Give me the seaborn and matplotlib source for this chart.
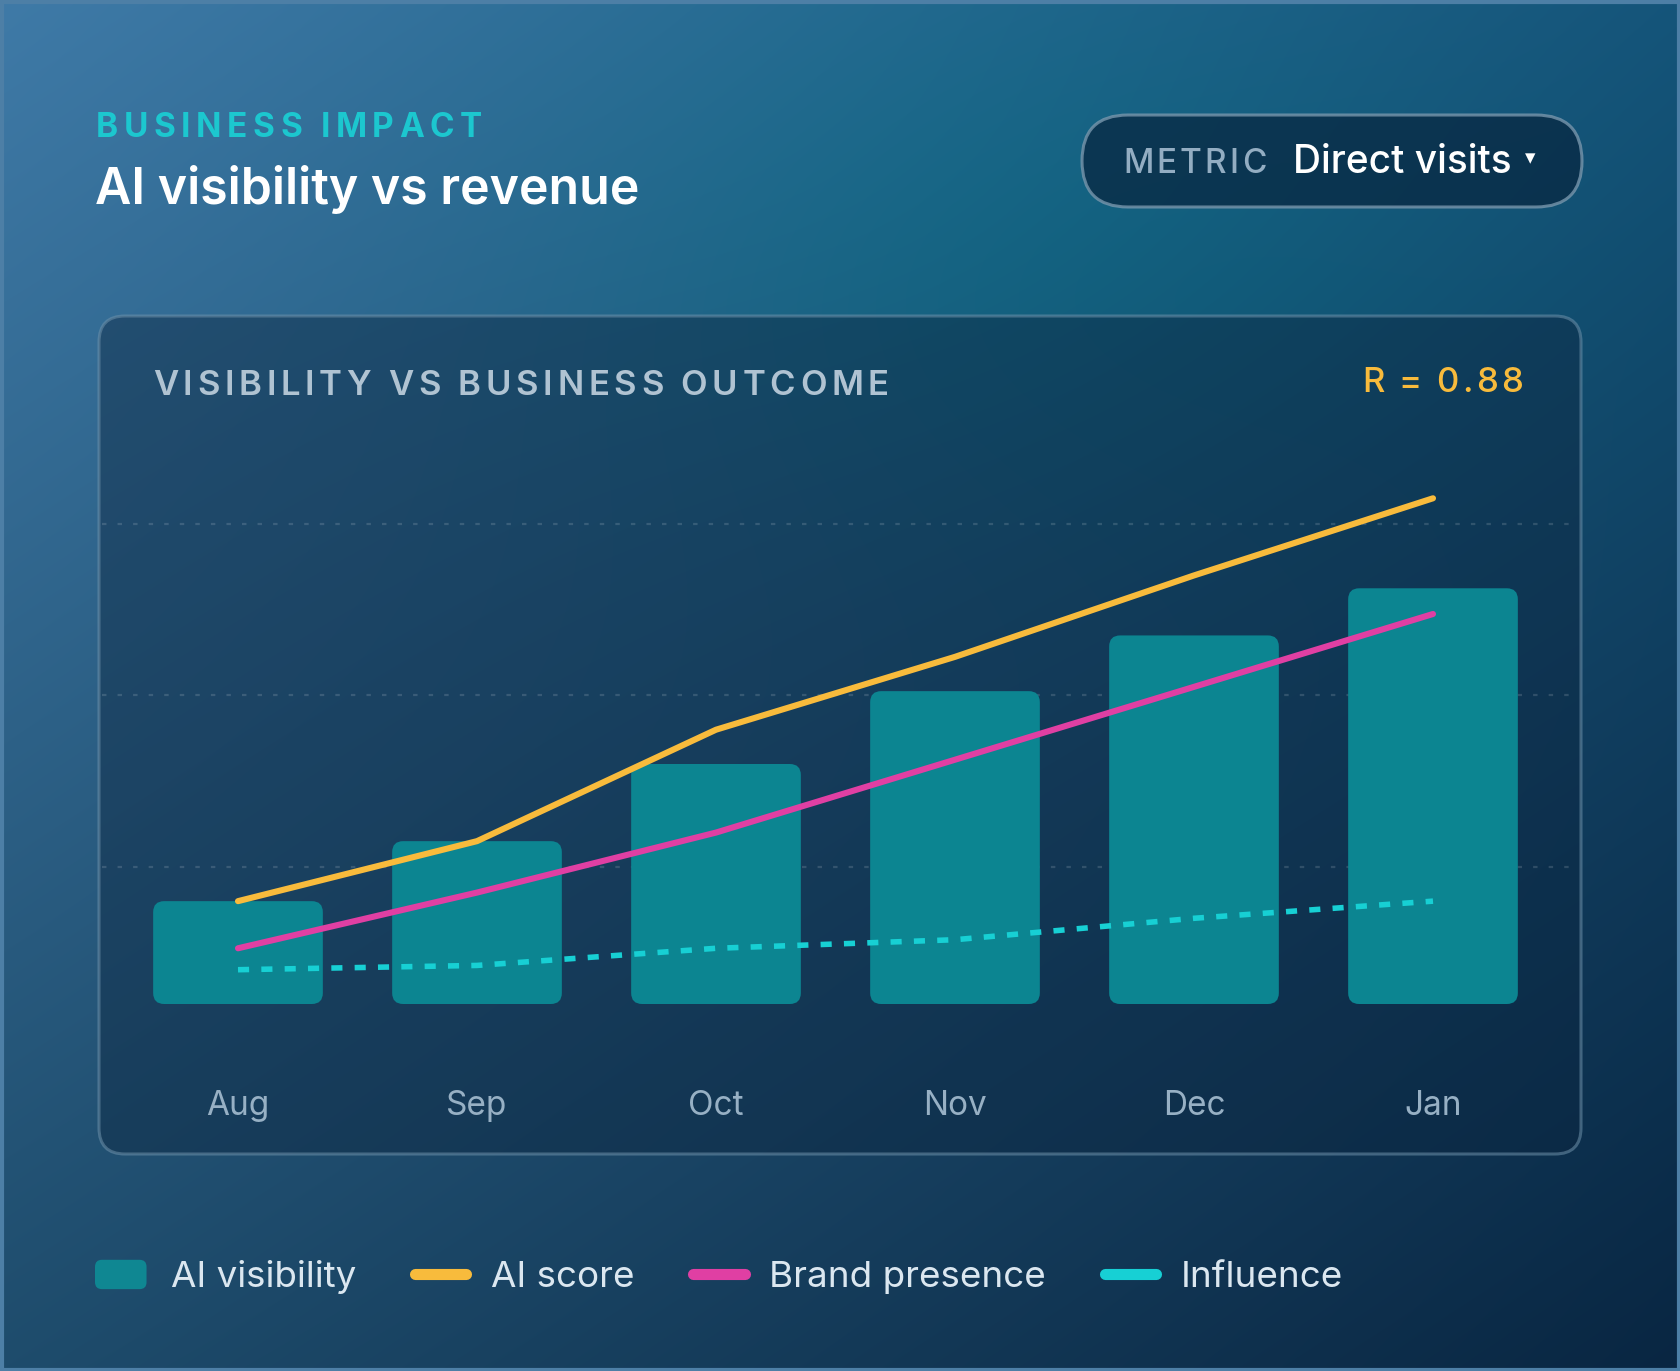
import numpy as np
import pandas as pd
import seaborn as sns
import matplotlib.pyplot as plt
from matplotlib.patches import FancyBboxPatch, Patch, Rectangle
from matplotlib.lines import Line2D
from matplotlib.legend_handler import HandlerPatch

# data
months = ['Aug', 'Sep', 'Oct', 'Nov', 'Dec', 'Jan']
ai_visibility = [24, 38, 56, 73, 86, 97]
ai_score = [24, 38, 64, 81, 100, 118]
brand_presence = [13, 26, 40, 57, 74, 91]
influence = [8, 9, 13, 15, 20, 24]
grid_levels = [32, 72, 112]
r_value = 0.88

W, H = 1680, 1371
BAR = '#0c8591'
YELLOW = '#f8bb3c'
PINK = '#e03fa3'
CYAN = '#17d0d4'

sns.set_theme(style='white')
plt.rcParams['font.family'] = ['Inter', 'DejaVu Sans']

fig = plt.figure(figsize=(W / 100, H / 100), dpi=100)

# ---- background gradient (pixel coordinates, y down) ----
bg = fig.add_axes([0, 0, 1, 1], zorder=-10)
bg.set_xlim(0, W)
bg.set_ylim(H, 0)
bg.axis('off')

gy, gx = np.mgrid[0:1:300j, 0:1:360j]
tl = np.array([63, 122, 167])
tr = np.array([22, 84, 122])
bl = np.array([30, 76, 108])
br = np.array([9, 38, 66])
top = tl[None, None, :] * (1 - gx[..., None]) + tr[None, None, :] * gx[..., None]
bot = bl[None, None, :] * (1 - gx[..., None]) + br[None, None, :] * gx[..., None]
img = top * (1 - gy[..., None]) + bot * gy[..., None]
glow = np.exp(-(((gx - 0.6) / 0.3) ** 2 + ((gy - 0.18) / 0.22) ** 2))
img += glow[..., None] * np.array([-14, 8, 0])[None, None, :]
img = np.clip(img / 255, 0, 1)
bg.imshow(img, extent=[0, W, H, 0], aspect='auto', interpolation='bilinear')
bg.add_patch(Rectangle((1.5, 1.5), W - 3, H - 3, fill=False, edgecolor='#4d7fa6', lw=3))

# chart panel
bg.add_patch(FancyBboxPatch((99, 316), 1482, 838, boxstyle='round,pad=0,rounding_size=26',
                            facecolor=(10 / 255, 35 / 255, 60 / 255, 0.42),
                            edgecolor=(110 / 255, 145 / 255, 170 / 255, 0.55), lw=2.2))
# metric pill
bg.add_patch(FancyBboxPatch((1082, 115), 500, 92, boxstyle='round,pad=0,rounding_size=46',
                            facecolor=(8 / 255, 40 / 255, 66 / 255, 0.75),
                            edgecolor=(120 / 255, 150 / 255, 172 / 255, 0.8), lw=2.2))

renderer = fig.canvas.get_renderer()


def spaced(x, y, s, width, align='left', **kw):
    # draw text letter by letter with even tracking so it spans `width` px
    texts, widths = [], []
    for ch in s:
        t = bg.text(0, y, ch, va='baseline', ha='left', **kw)
        w = t.get_window_extent(renderer).width
        if ch == ' ':
            w = t.get_fontsize() * 100 / 72 * 0.22
        texts.append(t)
        widths.append(w)
    track = (width - sum(widths)) / (len(s) - 1)
    cx = x if align == 'left' else x - width
    for t, w in zip(texts, widths):
        t.set_x(cx)
        cx += w + track


spaced(96, 137, 'BUSINESS IMPACT', 386, color='#1cc7cf', fontsize=24, fontweight='bold')
bg.text(95, 204, 'AI visibility vs revenue', va='baseline', ha='left', color='white',
        fontsize=36, fontweight='semibold')

spaced(1123, 173, 'METRIC', 143, color='#93adc2', fontsize=24, fontweight='medium')
bg.text(1293, 173, 'Direct visits', va='baseline', ha='left', color='white',
        fontsize=28, fontweight='medium')
bg.text(1530, 158, '▾', va='center', ha='center', color='white', fontsize=15,
        family=['DejaVu Sans'])

spaced(153, 395, 'VISIBILITY VS BUSINESS OUTCOME', 736, color='#b0c3d2', fontsize=25,
       fontweight='semibold')
spaced(1523, 392, f'R = {r_value:.2f}', 161, align='right', color=YELLOW, fontsize=25,
       fontweight='medium')

# ---- main chart axes ----
unit = 4.2857
base_px, top_px = 1004, 400
ax = fig.add_axes([94.6 / W, 1 - base_px / H, 1481.8 / W, (base_px - top_px) / H])
ax.set_facecolor('none')

df = pd.DataFrame({'month': months, 'visibility': ai_visibility})
sns.barplot(data=df, x='month', y='visibility', color=BAR, width=0.71, ax=ax,
            saturation=1, zorder=2)

# swap the square bars for rounded ones with the same bounds
xr = 239.1
for p in list(ax.patches):
    x0, y0, w, h = p.get_x(), p.get_y(), p.get_width(), p.get_height()
    p.set_visible(False)
    ax.add_patch(FancyBboxPatch((x0, y0), w, h,
                                boxstyle=f'round,pad=0,rounding_size={11 / xr}',
                                mutation_aspect=xr / unit, facecolor=BAR,
                                edgecolor='none', zorder=2))

sns.lineplot(x=months, y=ai_score, color=YELLOW, lw=4.4, ax=ax, zorder=4, sort=False)
sns.lineplot(x=months, y=brand_presence, color=PINK, lw=4.4, ax=ax, zorder=4, sort=False)
sns.lineplot(x=months, y=influence, color=CYAN, lw=4.0, ax=ax, zorder=4, sort=False,
             dashes=False, linestyle=(0, (2.0, 2.2)))

for g in grid_levels:
    ax.axhline(g, color='white', alpha=0.14, lw=1.6, ls=(0, (2, 5)), zorder=1, xmin=0.005)

ax.set_xlim(-0.6, 5.6)
ax.set_ylim(0, (base_px - top_px) / unit)
ax.set_xlabel('')
ax.set_ylabel('')
ax.set_yticks([])
sns.despine(ax=ax, left=True, bottom=True)
ax.tick_params(axis='x', length=0, pad=80, labelsize=24, labelcolor='#97b0c4')
for lab in ax.get_xticklabels():
    lab.set_va('baseline')

# ---- legend ----
def rounded_patch(legend, orig_handle, xdescent, ydescent, width, height, fontsize):
    return FancyBboxPatch((-xdescent, -ydescent), width, height,
                          boxstyle='round,pad=0,rounding_size=5')


handles = [
    Patch(facecolor='#0f8792', edgecolor='none', label='AI visibility'),
    Line2D([], [], color=YELLOW, lw=8, solid_capstyle='round', label='AI score'),
    Line2D([], [], color=PINK, lw=8, solid_capstyle='round', label='Brand presence'),
    Line2D([], [], color=CYAN, lw=8, solid_capstyle='round', label='Influence'),
]
fig.legend(handles=handles, loc='center left', bbox_to_anchor=(95 / W, 1 - 1277 / H),
           ncol=4, frameon=False, fontsize=26.5, labelcolor='#dbe7f0',
           handlelength=1.4, handleheight=0.85, handletextpad=0.66, columnspacing=1.6,
           borderpad=0, borderaxespad=0,
           handler_map={Patch: HandlerPatch(patch_func=rounded_patch)})

fig.savefig('out.png', dpi=100)
